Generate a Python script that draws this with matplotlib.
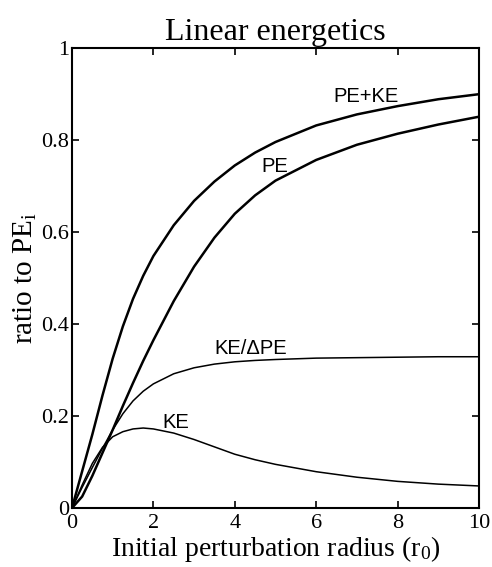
import matplotlib
matplotlib.use("Agg")
import matplotlib.pyplot as plt

plt.rcParams['font.family'] = ['Liberation Serif', 'DejaVu Serif']
plt.rcParams['mathtext.fontset'] = 'custom'
plt.rcParams['mathtext.rm'] = 'Liberation Serif'
plt.rcParams['mathtext.it'] = 'Liberation Serif:italic'

# radius values
r0 = [0, 0.25, 0.5, 0.75, 1.0, 1.25, 1.5, 1.75, 2.0, 2.5, 3.0, 3.5, 4.0, 4.5, 5.0, 6.0, 7.0, 8.0, 9.0, 10.0]
pe_ke = [0, 0.08, 0.16, 0.245, 0.325, 0.395, 0.455, 0.505, 0.548, 0.615, 0.668, 0.71, 0.745, 0.773, 0.796, 0.832, 0.856, 0.874, 0.889, 0.90]
pe = [0, 0.025, 0.07, 0.12, 0.17, 0.222, 0.272, 0.32, 0.365, 0.45, 0.525, 0.588, 0.64, 0.68, 0.712, 0.757, 0.79, 0.814, 0.834, 0.851]
ke_dpe = [0, 0.045, 0.088, 0.13, 0.17, 0.205, 0.233, 0.254, 0.27, 0.292, 0.305, 0.313, 0.318, 0.321, 0.323, 0.326, 0.327, 0.328, 0.329, 0.329]
ke = [0, 0.05, 0.097, 0.132, 0.155, 0.166, 0.172, 0.174, 0.172, 0.163, 0.149, 0.133, 0.117, 0.105, 0.095, 0.079, 0.067, 0.058, 0.052, 0.048]

xticks = [0, 2, 4, 6, 8, 10]
yticks = [0, 0.2, 0.4, 0.6, 0.8, 1]
ytick_labels = ['0', '0.2', '0.4', '0.6', '0.8', '1']

fig = plt.figure(figsize=(4.92, 5.67), dpi=100)
ax = fig.add_axes([0.1463, 0.104, 0.8273, 0.811])

ax.plot(r0, pe_ke, color='black', lw=1.8)
ax.plot(r0, pe, color='black', lw=1.8)
ax.plot(r0, ke_dpe, color='black', lw=1.1)
ax.plot(r0, ke, color='black', lw=1.1)

# curve labels
lab = dict(family=['Liberation Sans', 'DejaVu Sans'], fontsize=14.5, ha='center', va='center')
ax.text(7.22, 0.896, 'PE+KE', **lab)
ax.text(4.98, 0.743, 'PE', **lab)
ax.text(4.38, 0.348, 'KE/\u0394PE', **lab)
ax.text(2.54, 0.186, 'KE', **lab)

ax.set_xlim(0, 10)
ax.set_ylim(0, 1)
ax.set_xticks(xticks)
ax.set_xticklabels([str(t) for t in xticks])
ax.set_yticks(yticks)
ax.set_yticklabels(ytick_labels)
ax.tick_params(direction='in', length=5, width=1.2, top=True, right=True, labelsize=16)
ax.tick_params(axis='x', pad=4)
ax.tick_params(axis='y', pad=2)
for s in ax.spines.values():
    s.set_linewidth(1.5)

ax.set_title('Linear energetics', fontsize=23, pad=6)
ax.set_xlabel(r'Initial perturbation radius (r$_{\mathrm{0}}$)', fontsize=20, labelpad=1)
ax.set_ylabel(r'ratio to PE$_{\mathrm{i}}$', fontsize=21, labelpad=2)

fig.savefig('out.png', dpi=100)
